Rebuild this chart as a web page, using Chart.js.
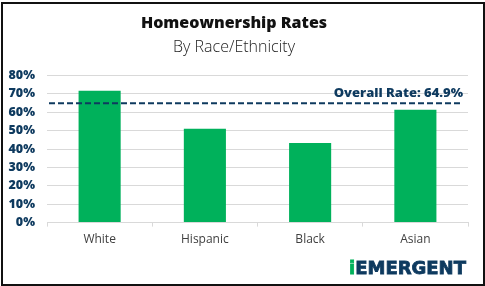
<!DOCTYPE html>
<html>
<head>
<meta charset="utf-8">
<script src="https://cdn.jsdelivr.net/npm/chart.js@4"></script>
<style>
  html, body { margin: 0; padding: 0; background: #fff; }
  #wrap { position: relative; width: 485px; height: 286px; }
  #frame { position: absolute; left: 1px; top: 2px; width: 480px; height: 280px;
           border: 2px solid #111; pointer-events: none; }
</style>
</head>
<body>
<div id="wrap">
  <canvas id="c" width="485" height="286"></canvas>
  <div id="frame"></div>
</div>
<script>
const groups = ['White', 'Hispanic', 'Black', 'Asian'];
const rates = [71.7, 51.0, 43.3, 61.3];
const overallRate = 64.9;
const yTicks = [0, 10, 20, 30, 40, 50, 60, 70, 80];

const GREEN = '#00b15b', NAVY = '#0e3a5f', GRID = '#d9d9d9';
const FONT = '"Open Sans", "Noto Sans", sans-serif';

// dashed overall-rate line + its label, and the logo
const extras = {
  id: 'extras',
  afterDatasetsDraw(chart) {
    const { ctx, chartArea: a, scales: { y } } = chart;
    const py = y.getPixelForValue(overallRate);
    ctx.save();
    ctx.strokeStyle = NAVY; ctx.lineWidth = 2; ctx.setLineDash([6, 3]);
    ctx.beginPath(); ctx.moveTo(a.left + 2, py); ctx.lineTo(a.right - 5, py); ctx.stroke();
    ctx.setLineDash([]);
    ctx.fillStyle = NAVY; ctx.font = `800 13px ${FONT}`;
    ctx.textAlign = 'right'; ctx.textBaseline = 'alphabetic';
    ctx.fillText(`Overall Rate: ${overallRate}%`, a.right - 5, py - 6);
    ctx.restore();
  },
  afterDraw(chart) {
    const { ctx } = chart;
    ctx.save();
    ctx.font = 'bold 18px "DejaVu Sans", sans-serif';
    ctx.textBaseline = 'alphabetic'; ctx.textAlign = 'left';
    const x = 349, base = 274;
    ctx.lineWidth = 0.8;
    ctx.fillStyle = ctx.strokeStyle = GREEN;
    ctx.fillText('i', x, base); ctx.strokeText('i', x, base);
    const x2 = x + ctx.measureText('i').width;
    ctx.fillStyle = ctx.strokeStyle = NAVY;
    ctx.fillText('EMERGENT', x2, base); ctx.strokeText('EMERGENT', x2, base);
    ctx.restore();
  }
};

new Chart(document.getElementById('c'), {
  type: 'bar',
  data: { labels: groups, datasets: [{
    data: rates, backgroundColor: GREEN, borderWidth: 0,
    barPercentage: 0.4, categoryPercentage: 1
  }]},
  options: {
    responsive: false, animation: false, devicePixelRatio: 1,
    layout: { padding: { left: 0, right: 17, top: 0, bottom: 33 } },
    plugins: {
      legend: { display: false }, tooltip: { enabled: false },
      title: { display: true, text: 'Homeownership Rates', color: '#111',
        font: { family: FONT, size: 16, weight: 800 }, padding: { top: 14, bottom: 2 } },
      subtitle: { display: true, text: 'By Race/Ethnicity', color: '#222',
        font: { family: FONT, size: 16, weight: 300 }, padding: { top: 3, bottom: 18 } }
    },
    scales: {
      x: {
        grid: { drawOnChartArea: false, drawTicks: true, tickLength: 4, color: GRID },
        border: { color: GRID },
        ticks: { color: '#404040', padding: 6, font: { family: FONT, size: 12 } }
      },
      y: {
        min: 0, max: 80,
        afterBuildTicks: s => { s.ticks = yTicks.map(v => ({ value: v })); },
        afterFit: s => { s.width = 47; },
        grid: { color: GRID, drawTicks: false },
        border: { display: false },
        ticks: { color: NAVY, padding: 12, autoSkip: false,
          font: { family: FONT, size: 12.5, weight: 800 },
          callback: v => v + '%' }
      }
    }
  },
  plugins: [extras]
});
</script>
</body>
</html>
